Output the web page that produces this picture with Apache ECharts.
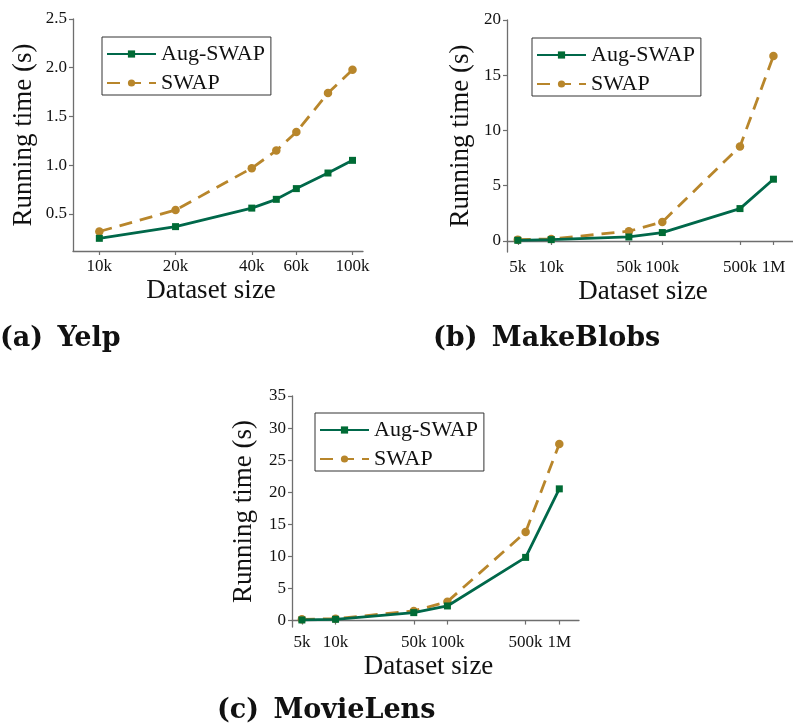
<!DOCTYPE html>
<html>
<head>
<meta charset="utf-8">
<script src="https://cdn.jsdelivr.net/npm/echarts@6/dist/echarts.min.js"></script>
<style>
  html, body { margin: 0; padding: 0; background: #fff; }
  #chart { width: 793px; height: 726px; }
</style>
</head>
<body>
<div id="chart"></div>
<script>
// Dataset sizes (number of points) for each experiment
const yelpSizes = [10000, 20000, 40000, 50000, 60000, 80000, 100000];
const blobsSizes = [5000, 10000, 50000, 100000, 500000, 1000000];
const movieSizes = [5000, 10000, 50000, 100000, 500000, 1000000];

// Running times in seconds
const yelpAug = [0.25, 0.37, 0.56, 0.65, 0.76, 0.92, 1.05];
const yelpSwap = [0.32, 0.54, 0.97, 1.15, 1.34, 1.74, 1.98];
const blobsAug = [0.06, 0.12, 0.36, 0.76, 2.93, 5.59];
const blobsSwap = [0.12, 0.18, 0.88, 1.72, 8.55, 16.74];
const movieAug = [0.10, 0.20, 1.24, 2.28, 9.85, 20.53];
const movieSwap = [0.20, 0.30, 1.50, 2.95, 13.79, 27.53];

// Tick positions and labels
const yelpXTicks = [10000, 20000, 40000, 60000, 100000];
const wideXTicks = [5000, 10000, 50000, 100000, 500000, 1000000];
const yelpYTicks = [0.5, 1.0, 1.5, 2.0, 2.5];
const blobsYTicks = [0, 5, 10, 15, 20];
const movieYTicks = [0, 5, 10, 15, 20, 25, 30, 35];

const seriesNames = ['Aug-SWAP', 'SWAP'];
const captionTags = ['(a)', '(b)', '(c)'];
const captionNames = ['Yelp', 'MakeBlobs', 'MovieLens'];

const GREEN = '#00684a';
const GREEN_MARK = '#006b35';
const GOLD = '#b8862b';
const AXIS = '#6e6e6e';
const SERIF = '"Liberation Serif", "Times New Roman", serif';
const LINE_W = 2.8;

function sizeLabel(v) {
  if (v >= 1000000) return (v / 1000000) + 'M';
  return (v / 1000) + 'k';
}

function xAxisFor(gridIndex, min, max, ticks) {
  return {
    type: 'log', logBase: 10, gridIndex, min, max,
    name: 'Dataset size', nameLocation: 'middle', nameGap: 26,
    nameTextStyle: { fontFamily: SERIF, fontSize: 27, color: '#111', padding: [0, 14, 0, 0] },
    axisLine: { show: true, lineStyle: { color: AXIS, width: 1.3 } },
    axisTick: { show: true, length: 4, lineStyle: { color: AXIS, width: 1.2 }, customValues: ticks },
    minorTick: { show: false },
    axisLabel: { fontFamily: SERIF, fontSize: 17, color: '#111', margin: 7,
      customValues: ticks, formatter: v => sizeLabel(v) },
    splitLine: { show: false }
  };
}

function yAxisFor(gridIndex, min, max, ticks, decimals, gap) {
  return {
    type: 'value', gridIndex, min, max,
    name: 'Running time (s)', nameLocation: 'middle', nameGap: gap, nameRotate: 90,
    nameTextStyle: { fontFamily: SERIF, fontSize: 27, color: '#111' },
    axisLine: { show: true, lineStyle: { color: AXIS, width: 1.3 } },
    axisTick: { show: true, length: 4, lineStyle: { color: AXIS, width: 1.2 }, customValues: ticks },
    axisLabel: { fontFamily: SERIF, fontSize: 17, color: '#111', margin: 6,
      customValues: ticks, formatter: v => v.toFixed(decimals) },
    splitLine: { show: false }
  };
}

function pairs(xs, ys) { return xs.map((x, i) => [x, ys[i]]); }

function augSeries(idx, xs, ys) {
  return {
    name: seriesNames[0], type: 'line', xAxisIndex: idx, yAxisIndex: idx,
    data: pairs(xs, ys), symbol: 'rect', symbolSize: 7, z: 3,
    lineStyle: { color: GREEN, width: LINE_W },
    itemStyle: { color: GREEN_MARK }
  };
}

function swapSeries(idx, xs, ys) {
  return {
    name: seriesNames[1], type: 'line', xAxisIndex: idx, yAxisIndex: idx,
    data: pairs(xs, ys), symbol: 'circle', symbolSize: 8.5, z: 2,
    lineStyle: { color: GOLD, width: LINE_W, type: [13, 8] },
    itemStyle: { color: GOLD }
  };
}

function legendAt(left, top) {
  return {
    data: seriesNames, orient: 'vertical', left, top,
    itemWidth: 49, itemHeight: 9, itemGap: 7,
    padding: [6, 6, 1, 4],
    borderColor: '#333', borderWidth: 1, backgroundColor: '#fff',
    textStyle: { fontFamily: SERIF, fontSize: 22, lineHeight: 20, color: '#111' },
    selectedMode: false
  };
}

function captionAt(i, left, top) {
  return {
    text: '{t|' + captionTags[i] + '} ' + captionNames[i], left, top, padding: 0,
    textStyle: {
      fontFamily: '"DejaVu Serif", serif', fontWeight: 'bold', fontSize: 27, color: '#111',
      rich: { t: { fontFamily: '"DejaVu Serif", serif', fontWeight: 'bold', fontSize: 27,
        color: '#111', padding: [0, 5, 0, 0] } }
    }
  };
}

const chart = echarts.init(document.getElementById('chart'), null, { renderer: 'canvas' });
chart.setOption({
  animation: false,
  backgroundColor: '#fff',
  title: [captionAt(0, 0, 325), captionAt(1, 433, 325), captionAt(2, 217, 697)],
  legend: [legendAt(102, 37), legendAt(532, 38), legendAt(315, 413)],
  grid: [
    { left: 73, top: 19, width: 290, height: 232 },
    { left: 507, top: 20, width: 290, height: 232 },
    { left: 292, top: 396, width: 287, height: 231 }
  ],
  xAxis: [
    xAxisFor(0, 7870, 110000, yelpXTicks),
    xAxisFor(1, 4000, 1500000, wideXTicks),
    xAxisFor(2, 4080, 1500000, wideXTicks)
  ],
  yAxis: [
    yAxisFor(0, 0.12, 2.5, yelpYTicks, 1, 36),
    yAxisFor(1, -1, 20, blobsYTicks, 0, 33),
    yAxisFor(2, -1, 35, movieYTicks, 0, 35)
  ],
  series: [
    augSeries(0, yelpSizes, yelpAug), swapSeries(0, yelpSizes, yelpSwap),
    augSeries(1, blobsSizes, blobsAug), swapSeries(1, blobsSizes, blobsSwap),
    augSeries(2, movieSizes, movieAug), swapSeries(2, movieSizes, movieSwap)
  ]
});
</script>
</body>
</html>
